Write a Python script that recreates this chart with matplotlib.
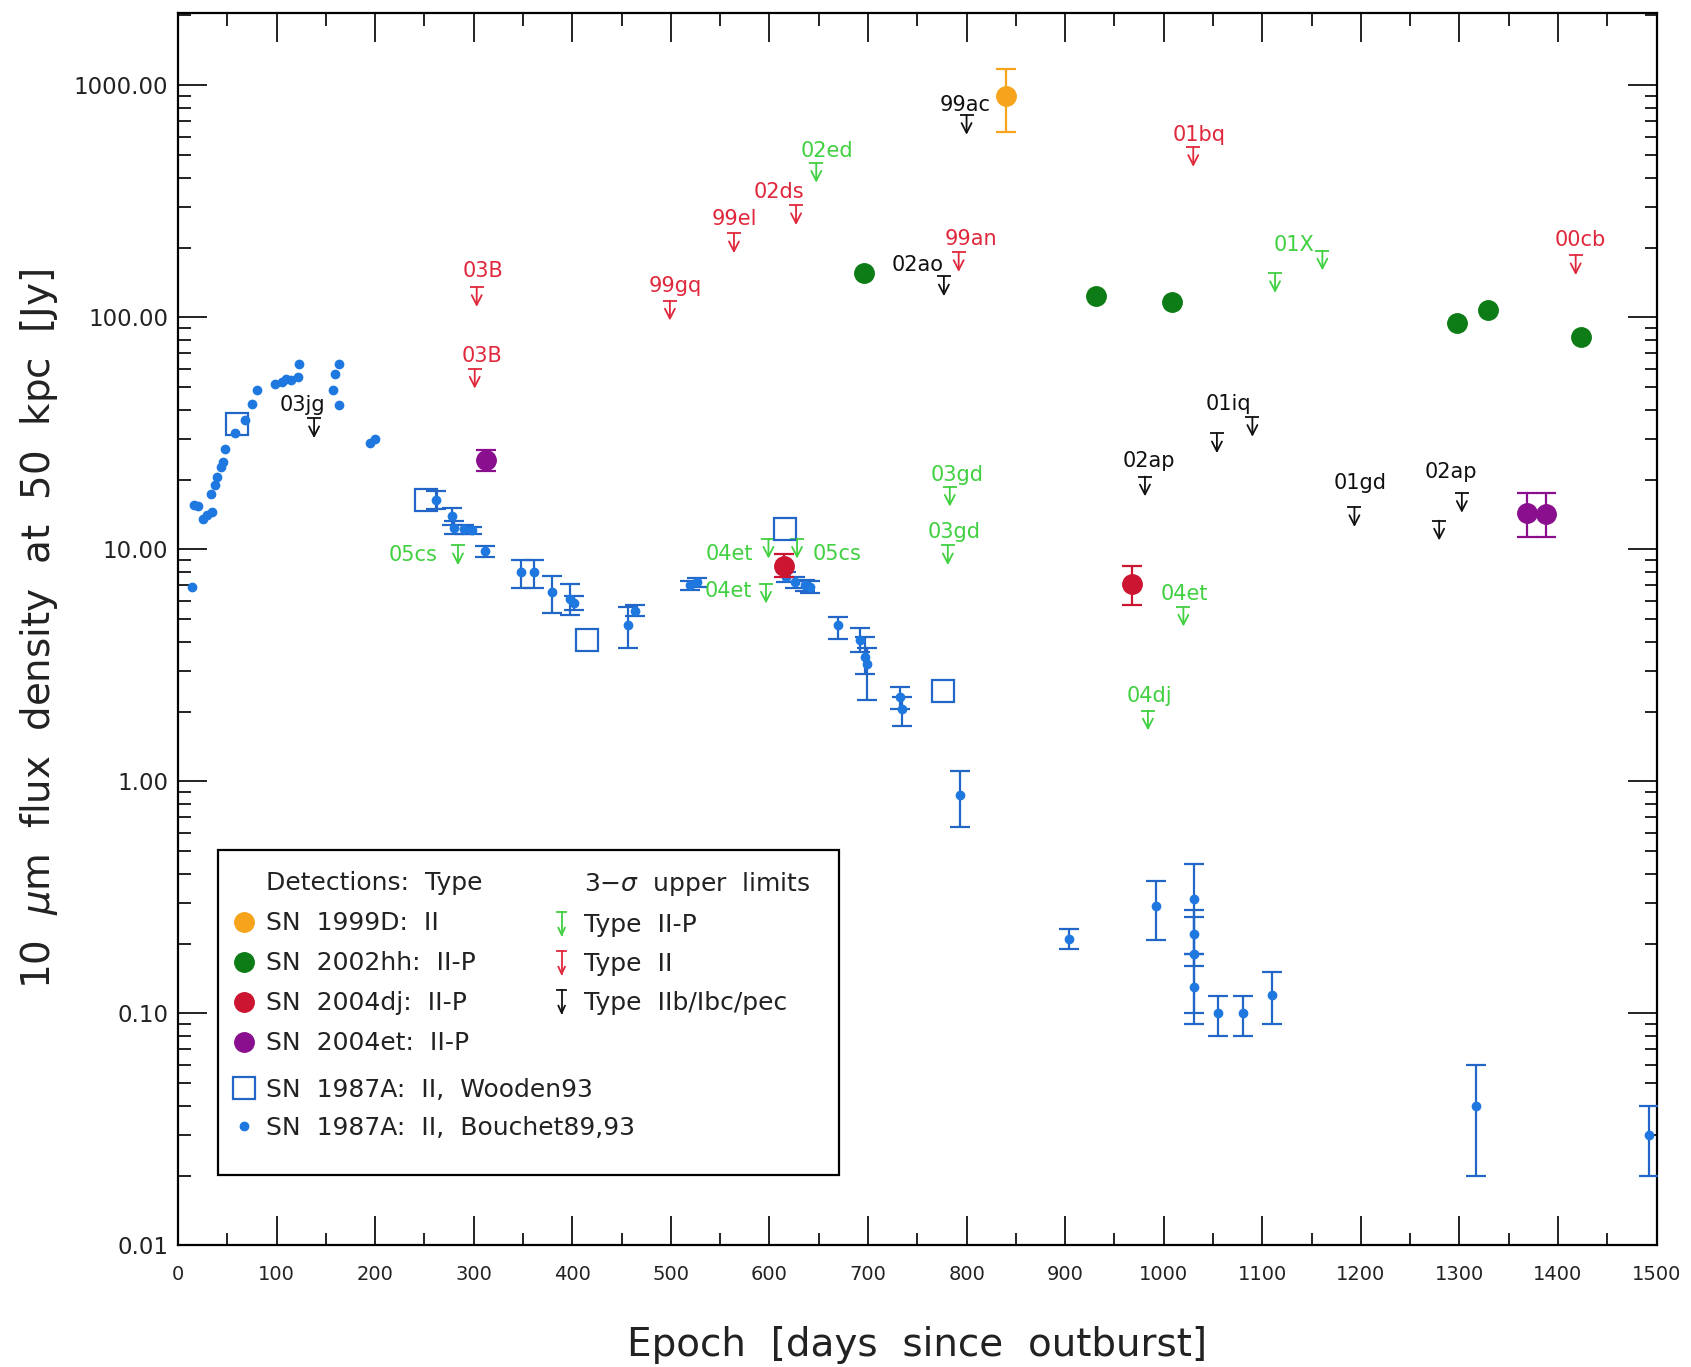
import numpy as np
import matplotlib
matplotlib.use('Agg')
import matplotlib.pyplot as plt
from matplotlib.lines import Line2D
from matplotlib.patches import Rectangle
from matplotlib.legend_handler import HandlerBase
from matplotlib.ticker import MultipleLocator, LogLocator, FormatStrFormatter, NullFormatter

nan = np.nan

# detections
sn1999d_day = [840]
sn1999d_flux = [900]
sn1999d_low = [630]
sn1999d_high = [1180]

sn2002hh_day = [696, 931, 1008, 1298, 1329, 1423]
sn2002hh_flux = [155, 123, 117, 95, 108, 82]

sn2004dj_day = [615, 968]
sn2004dj_flux = [8.5, 7.1]
sn2004dj_low = [7.6, 5.75]
sn2004dj_high = [9.55, 8.45]

sn2004et_day = [312, 1369, 1388]
sn2004et_flux = [24.2, 14.4, 14.2]
sn2004et_low = [21.7, 11.3, 11.3]
sn2004et_high = [26.9, 17.5, 17.5]

# SN 1987A, Wooden93
w93_day = [60, 252, 415, 616, 776]
w93_flux = [34.8, 16.3, 4.08, 12.2, 2.45]

# SN 1987A, Bouchet89,93 (nan = no error bar)
b89_day = [14, 16.5, 20, 25, 29, 34, 33.5, 37, 39, 43.6, 46, 48, 58, 68, 75, 80,
           98, 105, 110, 115, 122, 123, 157, 159, 163, 163, 195, 200,
           262, 278, 280, 290, 298, 311, 348, 361, 379, 398, 402, 457, 464,
           519, 527, 617, 626, 636, 641, 670, 692, 697, 699, 732, 734, 793,
           904, 992, 1031, 1031, 1031, 1031, 1055, 1080, 1110, 1317, 1492]
b89_flux = [6.9, 15.6, 15.4, 13.5, 14.0, 14.5, 17.4, 19.0, 20.5, 22.7, 23.8, 27.2,
            31.6, 36.2, 42.2, 48.4, 51.8, 52.6, 54.4, 53.5, 55.3, 63.1, 48.4, 57.1,
            62.7, 41.8, 28.6, 30.0,
            16.4, 13.9, 12.4, 12.2, 12.1, 9.8, 8.0, 8.0, 6.55, 6.1, 5.9, 4.7, 5.45,
            7.0, 7.2, 7.6, 7.2, 7.0, 6.9, 4.7, 4.05, 3.43, 3.2, 2.31, 2.06, 0.873,
            0.210, 0.290, 0.31, 0.22, 0.18, 0.13, 0.100, 0.100, 0.120, 0.040, 0.030]
b89_low = [nan] * 28 + [
    15.0, 12.7, 11.6, 11.7, 11.7, 9.3, 6.85, 6.85, 5.3, 5.2, 5.5, 3.76, 5.15,
    6.7, 6.9, 7.2, 6.8, 6.6, 6.5, 4.1, 3.6, 2.91, 2.25, 2.06, 1.74, 0.636,
    0.190, 0.208, 0.18, 0.16, 0.10, 0.09, 0.080, 0.080, 0.090, 0.020, 0.020]
b89_high = [nan] * 28 + [
    17.9, 15.1, 13.2, 12.7, 12.5, 10.3, 9.0, 9.0, 7.7, 7.1, 6.3, 5.67, 5.75,
    7.3, 7.5, 8.0, 7.6, 7.4, 7.3, 5.1, 4.6, 4.19, 3.75, 2.55, 2.31, 1.11,
    0.232, 0.372, 0.44, 0.28, 0.26, 0.18, 0.119, 0.119, 0.151, 0.060, 0.040]

# 3-sigma upper limits
lim_day = [138, 303, 301, 284, 499, 564, 627, 647.5, 800, 792, 777, 1030, 1113,
           1161, 1418, 1054, 1090, 981, 1193.5, 1279.5, 1302.5, 1020, 984, 783,
           781, 599, 628, 596.5]
lim_flux = [36.7, 135, 60, 10.4, 118, 230, 304, 463, 745, 191, 150, 542, 155,
            194, 185, 31.6, 37.2, 20.6, 15.2, 13.3, 17.5, 5.66, 2.02, 18.6,
            10.4, 11.1, 11.1, 7.11]
lim_type = ['IIb', 'II', 'II', 'II-P', 'II', 'II', 'II', 'II-P', 'IIb', 'II',
            'IIb', 'II', 'II-P', 'II-P', 'II', 'IIb', 'IIb', 'IIb', 'IIb', 'IIb',
            'IIb', 'II-P', 'II-P', 'II-P', 'II-P', 'II-P', 'II-P', 'II-P']
lim_label = ['03jg', '03B', '03B', '05cs', '99gq', '99el', '02ds', '02ed', '99ac',
             '99an', '02ao', '01bq', '', '01X', '00cb', '', '01iq', '02ap', '01gd',
             '', '02ap', '04et', '04dj', '03gd', '03gd', '04et', '05cs', '04et']
# where each name sits, in points from the top of its arrow
lim_label_off = [(-8.5, 5), (4.5, 7), (5, 5), (-32, -11), (4, 6), (0, 6), (-12.5, 5),
                 (8, 4.5), (-1, 3), (9, 5), (-19, 4), (4, 4), (0, 0), (-20.5, 0),
                 (3, 6.5), (0, 0), (-17, 5), (3, 7), (4, 13), (0, 0), (-8, 10.5),
                 (1, 4.5), (1, 6), (5, 4.5), (4.5, 5), (-28, -15.5), (29, -15.5),
                 (-27, -9.5)]

c_1999d = '#f7a41d'
c_2002hh = '#0e7c16'
c_2004dj = '#cc1530'
c_2004et = '#8a0f8e'
c_1987a = '#1f78e0'
c_1987a_err = '#2266c8'
lim_colors = {'II-P': '#40d040', 'II': '#e0283c', 'IIb': '#111111'}
txt = '#222222'
ARROW = 10 ** 0.085


class LimitHandler(HandlerBase):
    # little capped down-arrow for the upper-limit entries
    def create_artists(self, legend, orig_handle, xdescent, ydescent,
                       width, height, fontsize, trans):
        c = orig_handle.get_color()
        x = width / 2 - xdescent
        yc = height / 2 - ydescent
        top = yc + 0.45 * fontsize
        bot = yc - 0.45 * fontsize
        w = 0.17 * fontsize
        kw = dict(color=c, lw=1.3, transform=trans)
        cap = Line2D([x - w, x + w], [top, top], **kw)
        stem = Line2D([x, x], [top, bot], **kw)
        head = Line2D([x - 0.13 * fontsize, x, x + 0.13 * fontsize],
                      [bot + 0.28 * fontsize, bot, bot + 0.28 * fontsize], **kw)
        return [cap, stem, head]


def err(flux, low, high):
    flux = np.asarray(flux, float)
    return [flux - np.asarray(low, float), np.asarray(high, float) - flux]


fig = plt.figure(figsize=(16.91, 13.67), dpi=100)
ax = fig.add_axes([0.1053, 0.0889, 0.8743, 0.9016])
ax.set_yscale('log')
ax.set_xlim(0, 1500)
ax.set_ylim(0.01, 2050)

## SN 1987A
ax.errorbar(b89_day, b89_flux, yerr=err(b89_flux, b89_low, b89_high), fmt='o', ms=6,
            color=c_1987a, ecolor=c_1987a_err, elinewidth=1.6, capsize=7, capthick=1.6,
            zorder=3)
ax.plot(w93_day, w93_flux, 's', ms=16, mfc='none', mec=c_1987a_err, mew=1.6, zorder=3)

## other detections
ax.errorbar(sn1999d_day, sn1999d_flux, yerr=err(sn1999d_flux, sn1999d_low, sn1999d_high),
            fmt='o', ms=14, color=c_1999d, elinewidth=1.6, capsize=7, capthick=1.6, zorder=4)
ax.plot(sn2002hh_day, sn2002hh_flux, 'o', ms=14, color=c_2002hh, zorder=4)
ax.errorbar(sn2004dj_day, sn2004dj_flux, yerr=err(sn2004dj_flux, sn2004dj_low, sn2004dj_high),
            fmt='o', ms=14, color=c_2004dj, elinewidth=1.6, capsize=7, capthick=1.6, zorder=4)
ax.errorbar(sn2004et_day, sn2004et_flux, yerr=err(sn2004et_flux, sn2004et_low, sn2004et_high),
            fmt='o', ms=14, color=c_2004et, elinewidth=1.6, capsize=7, capthick=1.6, zorder=4)

## upper limits
for d, f, t, lab, off in zip(lim_day, lim_flux, lim_type, lim_label, lim_label_off):
    c = lim_colors[t]
    ax.annotate('', xy=(d, f / ARROW), xytext=(d, f),
                arrowprops=dict(arrowstyle='->, head_length=0.35, head_width=0.18',
                                color=c, lw=1.3, shrinkA=0, shrinkB=0, mutation_scale=20))
    ax.plot([d], [f], marker='_', ms=10, mew=1.3, color=c)
    if lab:
        ax.annotate(lab, xy=(d, f), xytext=off, textcoords='offset points',
                    ha='center', va='baseline', color=c, fontsize=15)

## axes
for s in ax.spines.values():
    s.set_linewidth(1.6)
ax.set_yticks([0.01, 0.1, 1, 10, 100, 1000])
ax.yaxis.set_major_formatter(FormatStrFormatter('%.2f'))
ax.yaxis.set_minor_locator(LogLocator(base=10, subs=np.arange(2, 10)))
ax.yaxis.set_minor_formatter(NullFormatter())
ax.xaxis.set_major_locator(MultipleLocator(100))
ax.xaxis.set_minor_locator(MultipleLocator(50))
ax.tick_params(which='both', direction='in', top=True, right=True, colors='#111111')
ax.tick_params(which='major', length=21, width=1.3)
ax.tick_params(which='minor', length=9, width=1.3)
ax.tick_params(axis='y', labelsize=16.5, pad=7, labelcolor=txt)
ax.tick_params(axis='x', labelsize=14, pad=14, labelcolor=txt)

ax.set_xlabel('Epoch  [days  since  outburst]', fontsize=28, color=txt, labelpad=30)
ax.set_ylabel(r'10  $\mu$m  flux  density  at  50  kpc  [Jy]', fontsize=28, color=txt,
              labelpad=10)

## legend
ax.add_patch(Rectangle((0.027, 0.057), 0.42, 0.264, transform=ax.transAxes,
                       facecolor='white', edgecolor='black', lw=1.6, zorder=6))
blank = Line2D([], [], ls='none')
leg_kw = dict(loc='upper left', frameon=False, fontsize=18, handlelength=1.0,
              handletextpad=0.4, borderpad=0, borderaxespad=0, labelcolor=txt)

det_handles = [blank,
               Line2D([], [], ls='none', marker='o', ms=14, color=c_1999d),
               Line2D([], [], ls='none', marker='o', ms=14, color=c_2002hh),
               Line2D([], [], ls='none', marker='o', ms=14, color=c_2004dj),
               Line2D([], [], ls='none', marker='o', ms=14, color=c_2004et)]
det_labels = ['Detections:  Type', 'SN  1999D:  II', 'SN  2002hh:  II-P',
              'SN  2004dj:  II-P', 'SN  2004et:  II-P']
leg1 = ax.legend(det_handles, det_labels, bbox_to_anchor=(0.036, 0.3036),
                 labelspacing=0.64, **leg_kw)
leg1.set_zorder(7)
ax.add_artist(leg1)

ref_handles = [Line2D([], [], ls='none', marker='s', ms=16, mfc='none', mec=c_1987a_err, mew=1.6),
               Line2D([], [], ls='none', marker='o', ms=6, color=c_1987a)]
ref_labels = ['SN  1987A:  II,  Wooden93', 'SN  1987A:  II,  Bouchet89,93']
leg2 = ax.legend(ref_handles, ref_labels, bbox_to_anchor=(0.036, 0.1358),
                 labelspacing=0.56, **leg_kw)
leg2.set_zorder(7)
ax.add_artist(leg2)

lim_handles = [blank] + [Line2D([], [], color=lim_colors[t]) for t in ['II-P', 'II', 'IIb']]
lim_labels = [r'3$-\sigma$  upper  limits', 'Type  II-P', 'Type  II', 'Type  IIb/Ibc/pec']
leg3 = ax.legend(lim_handles, lim_labels, bbox_to_anchor=(0.251, 0.3044),
                 labelspacing=0.6, handler_map={h: LimitHandler() for h in lim_handles[1:]},
                 **leg_kw)
leg3.set_zorder(7)

fig.savefig('out.png', dpi=100)
